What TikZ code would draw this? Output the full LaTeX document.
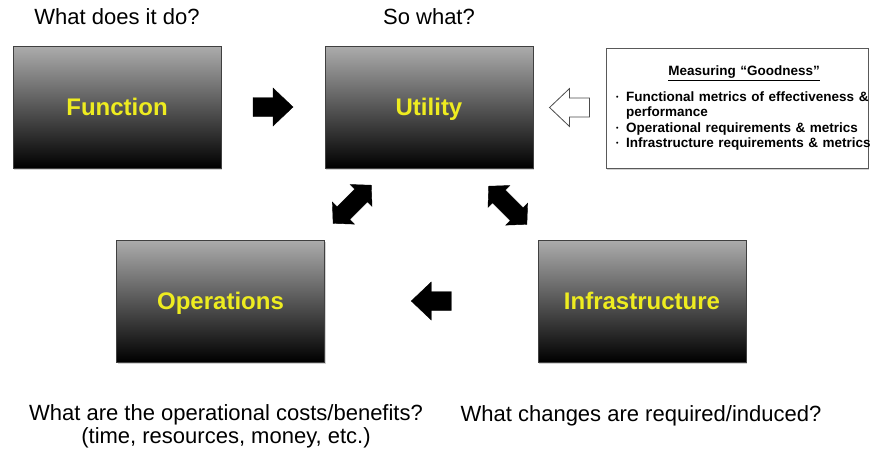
\documentclass[tikz,border=0pt]{standalone}
\usepackage{fontspec}
\setmainfont{Liberation Sans}
\usetikzlibrary{shadows,calc}

\definecolor{labelyellow}{RGB}{238,236,32}

% one bullet line of the criteria list
\newcommand{\goodpoint}[1]{\par\hangindent=10pt\hangafter=1\noindent
  \makebox[10pt][l]{\raisebox{.3ex}{\fontsize{7}{7}\selectfont•}}#1}

\tikzset{
  block/.style={draw=black!75, line width=.6pt, top color=gray!65, bottom color=black,
    minimum width=208pt, minimum height=122pt, inner sep=0pt, text=labelyellow,
    text height=17pt, text depth=0pt,
    font=\fontsize{24}{28}\selectfont\bfseries,
    drop shadow={shadow xshift=1pt, shadow yshift=-1.5pt, opacity=.35}},
  question/.style={font=\fontsize{22}{23}\selectfont, align=center, inner sep=0pt, anchor=base},
  pics/fatarrow/.style={code={
    \draw[pic actions] (-20,-9.5) -- (0,-9.5) -- (0,-19) -- (20,0) -- (0,19) -- (0,9.5) -- (-20,9.5) -- cycle;}},
  pics/twoway/.style={code={
    \draw[pic actions] (-27,0) -- (-12.5,-15.5) -- (-12.5,-9) -- (12.5,-9) -- (12.5,-15.5) -- (27,0)
      -- (12.5,15.5) -- (12.5,9) -- (-12.5,9) -- (-12.5,15.5) -- cycle;}},
}

\begin{document}
\begin{tikzpicture}[x=1pt, y=-1pt]
  \useasboundingbox (0,0) rectangle (870,448);

  \node[block] (function) at (117,107) {Function};
  \node[block] (utility) at (429,107) {Utility};
  \node[block] (operations) at (220.5,301) {Operations};
  \node[block] (infrastructure) at (642,301) {Infrastructure};

  \node[draw=black!65, fill=white, minimum width=262pt, minimum height=120pt, inner sep=0pt,
    drop shadow={shadow xshift=1pt, shadow yshift=-1.5pt, opacity=.35}] (goodness) at (737,108) {};
  \node[anchor=north west, text width=256pt, inner sep=0pt, align=left,
    font=\fontsize{13.5}{15.5}\selectfont\bfseries] (criteria) at (616,66) {%
    {\centering\underline{Measuring “Goodness”}\par}\vspace{10pt}
    \goodpoint{Functional metrics of effectiveness \& performance}
    \goodpoint{Operational requirements \& metrics}
    \goodpoint{Infrastructure requirements \& metrics}};

  % block arrows between the boxes
  \pic[fill=black] at ($(function.east)!.5!(utility.west)$) {fatarrow};
  \pic[draw=black!70, fill=white, line width=.8pt, rotate=180] at ($(utility.east)!.5!(goodness.west)$) {fatarrow};
  \pic[fill=black, rotate=180] at ($(infrastructure.west)!.5!(operations.east)$) {fatarrow};
  \pic[fill=black, rotate=45] at ($(utility.south west)+(27.5,36)$) {twoway};
  \pic[fill=black, rotate=-45] at ($(utility.south east)+(-25.5,37)$) {twoway};

  \node[question] (doq) at (117,24) {What does it do?};
  \node[question] (sowhat) at (429,24) {So what?};
  \node[question] (costq) at (226,443) {What are the operational costs/benefits?\\(time, resources, money, etc.)};
  \node[question] (changeq) at (641,421) {What changes are required/induced?};
\end{tikzpicture}
\end{document}
